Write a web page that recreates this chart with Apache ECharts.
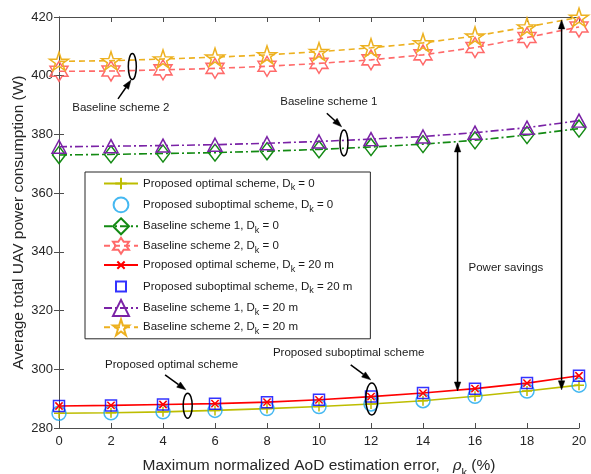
<!DOCTYPE html>
<html><head><meta charset="utf-8">
<script src="https://cdn.jsdelivr.net/npm/echarts@6/dist/echarts.min.js"></script>
<style>html,body{margin:0;padding:0;background:#fff}#c{width:591px;height:474px}</style>
</head><body><div id="c"></div>
<script>
// ---- data ----
const xValues = [0, 2, 4, 6, 8, 10, 12, 14, 16, 18, 20];
const optimalD0     = [285.0, 285.2, 285.5, 286.0, 286.6, 287.3, 288.2, 289.3, 290.8, 292.6, 294.6];
const suboptimalD0  = [285.0, 285.2, 285.5, 286.0, 286.6, 287.3, 288.2, 289.3, 290.8, 292.6, 294.6];
const baseline1D0   = [373.0, 373.2, 373.5, 373.8, 374.3, 374.9, 375.7, 376.7, 378.0, 379.8, 382.0];
const baseline2D0   = [401.5, 401.6, 402.0, 402.5, 403.2, 404.2, 405.4, 407.1, 409.6, 413.0, 416.6];
const optimalD20    = [287.5, 287.7, 288.0, 288.3, 288.8, 289.6, 290.7, 291.9, 293.4, 295.3, 297.8];
const suboptimalD20 = [287.5, 287.7, 288.0, 288.3, 288.8, 289.6, 290.7, 291.9, 293.4, 295.3, 297.8];
const baseline1D20  = [375.8, 376.0, 376.2, 376.5, 377.0, 377.6, 378.4, 379.3, 380.6, 382.3, 384.7];
const baseline2D20  = [404.9, 405.1, 405.7, 406.3, 407.1, 408.2, 409.5, 411.2, 413.5, 416.6, 419.9];
const seriesNames = [
  'Proposed optimal scheme, D_k = 0',
  'Proposed suboptimal scheme, D_k = 0',
  'Baseline scheme 1, D_k = 0',
  'Baseline scheme 2, D_k = 0',
  'Proposed optimal scheme, D_k = 20 m',
  'Proposed suboptimal scheme, D_k = 20 m',
  'Baseline scheme 1, D_k = 20 m',
  'Baseline scheme 2, D_k = 20 m'
];
const xTicks = [0, 20, 2];
const yTicks = [280, 420, 20];
// annotations in data coordinates
const annoTexts = [
  ['Baseline scheme 2', 2.38, 389.0],
  ['Baseline scheme 1', 10.38, 391.2],
  ['Proposed optimal scheme', 4.33, 301.5],
  ['Proposed suboptimal scheme', 11.14, 305.5],
  ['Power savings', 17.19, 334.5]
];
const annoEllipses = [[2.82, 403.1], [10.96, 377.1], [4.95, 287.6], [12.03, 289.9]];
const annoArrows = [
  [2.27, 392.1, 2.77, 398.5],
  [10.30, 387.2, 10.87, 382.6],
  [4.08, 298.1, 4.88, 293.0],
  [11.22, 301.5, 11.99, 296.4]
];
const annoDoubleArrows = [
  [15.33, 377.1, 15.33, 292.6],
  [19.33, 419.0, 19.33, 293.0]
];

// ---- styles ----
function starPath(n, rIn) {
  let p = '';
  for (let i = 0; i < 2 * n; i++) {
    const a = (-90 + i * 180 / n) * Math.PI / 180;
    const r = i % 2 === 0 ? 10 : 10 * rIn;
    p += (i === 0 ? 'M' : 'L') + (10 + r * Math.cos(a)).toFixed(2) + ',' + (10 + r * Math.sin(a)).toFixed(2);
  }
  return 'path://' + p + 'Z';
}
// padded paths so the glyph is drawn smaller than its symbol box
const PLUS = 'path://M-2,-2M12,12M5,0L5,10M0,5L10,5';
const CROSS = 'path://M-6,-6M16,16M0,0L10,10M10,0L0,10';
const HEX = starPath(6, 0.577);
const PENT = starPath(5, 0.382);
const LEG_CIRCLE = 'path://M-3.5,-3.5M23.5,23.5M0,10A10,10,0,1,1,20,10A10,10,0,1,1,0,10Z';
const LEG_SQUARE = 'path://M-5,-5M15,15M0,0L10,0L10,10L0,10Z';
const FONT = '"Liberation Sans", Arial, Helvetica, sans-serif';

const dataSets = [optimalD0, suboptimalD0, baseline1D0, baseline2D0, optimalD20, suboptimalD20, baseline1D20, baseline2D20];
const styles = [
  {type: 'line', color: '#BDBD00', symbol: PLUS, size: 14, dash: 'solid'},
  {type: 'scatter', color: '#16A6EE', symbol: 'circle', size: 14, legendIcon: LEG_CIRCLE},
  {type: 'line', color: '#138A13', symbol: 'diamond', size: [13, 17], dash: [8, 3, 2, 3]},
  {type: 'line', color: '#FF6A6A', symbol: HEX, size: [18, 20], dash: [6, 4]},
  {type: 'line', color: '#FF0000', symbol: CROSS, size: 16, dash: 'solid'},
  {type: 'scatter', color: '#0000FF', symbol: 'rect', size: 11, legendIcon: LEG_SQUARE},
  {type: 'line', color: '#7A22A6', symbol: 'triangle', size: [14, 13], dash: [8, 3, 2, 3]},
  {type: 'line', color: '#EDB120', symbol: PENT, size: [19, 18], dash: [6, 4]}
];

const series = dataSets.map((d, i) => {
  const st = styles[i];
  const s = {
    name: seriesNames[i],
    type: st.type,
    data: xValues.map((x, j) => [x, d[j]]),
    symbol: st.symbol,
    symbolSize: st.size,
    itemStyle: {color: 'rgba(0,0,0,0)', borderColor: st.color, borderWidth: 1.5},
    emphasis: {disabled: true},
    z: 2 + i
  };
  if (st.type === 'line') {
    s.lineStyle = {color: st.color, width: 1.6, type: st.dash};
    s.showAllSymbol = true;
  }
  return s;
});
const legendData = seriesNames.map((n, i) => styles[i].legendIcon ? {name: n, icon: styles[i].legendIcon} : {name: n});

const axisCommon = {
  axisLine: {show: true, lineStyle: {color: '#4d4d4d', width: 1}},
  axisTick: {show: true, inside: true, length: 5, lineStyle: {color: '#4d4d4d'}},
  splitLine: {show: false}
};

const chart = echarts.init(document.getElementById('c'), null, {renderer: 'canvas'});
chart.setOption({
  animation: false,
  backgroundColor: '#fff',
  grid: {left: 59, right: 12, top: 17, bottom: 46, containLabel: false, outerBoundsMode: 'none'},
  legend: {
    orient: 'vertical', left: 85, top: 172,
    backgroundColor: '#fff', borderColor: '#262626', borderWidth: 1,
    padding: [2.5, 18, 2.5, 18],
    itemWidth: 34, itemHeight: 20, itemGap: 1.4,
    textStyle: {fontFamily: FONT, fontSize: 11.5, color: '#1a1a1a', lineHeight: 18,
      rich: {sub: {fontFamily: FONT, fontSize: 9, color: '#1a1a1a', verticalAlign: 'bottom', lineHeight: 18}}},
    formatter: n => n.replace('D_k', 'D{sub|k}'),
    data: legendData
  },
  xAxis: [
    Object.assign({type: 'value', min: xTicks[0], max: xTicks[1], interval: xTicks[2], position: 'bottom',
      axisLabel: {fontFamily: FONT, fontSize: 13, color: '#262626', margin: 7},
      name: 'Maximum normalized AoD estimation error,   {rho|ρ}{sub|k} (%)', nameLocation: 'middle', nameGap: 26,
      nameTextStyle: {fontFamily: FONT, fontSize: 15.5, color: '#262626',
        rich: {rho: {fontFamily: 'DejaVu Serif', fontStyle: 'italic', fontSize: 15, color: '#262626'},
               sub: {fontFamily: FONT, fontSize: 11, color: '#262626', verticalAlign: 'bottom', lineHeight: 24}}}}, axisCommon),
    Object.assign({type: 'value', min: xTicks[0], max: xTicks[1], interval: xTicks[2], position: 'top',
      axisLabel: {show: false}}, axisCommon)
  ],
  yAxis: [
    Object.assign({type: 'value', min: yTicks[0], max: yTicks[1], interval: yTicks[2], position: 'left',
      axisLabel: {fontFamily: FONT, fontSize: 13, color: '#262626', margin: 6},
      name: 'Average total UAV power consumption (W)', nameLocation: 'middle', nameGap: 32, nameMoveOverlap: false,
      nameTextStyle: {fontFamily: FONT, fontSize: 15.5, color: '#262626'}}, axisCommon),
    Object.assign({type: 'value', min: yTicks[0], max: yTicks[1], interval: yTicks[2], position: 'right',
      axisLabel: {show: false}}, axisCommon)
  ],
  series: series
});

// ---- annotations (positioned through the chart's own coordinate conversion) ----
function px(x, y) { return chart.convertToPixel({gridIndex: 0}, [x, y]); }
const graphics = [];
const black = '#000';
annoTexts.forEach(t => {
  const p = px(t[1], t[2]);
  graphics.push({type: 'text', z: 100, style: {text: t[0], x: p[0], y: p[1], align: 'center', verticalAlign: 'middle',
    fontFamily: FONT, fontSize: 11.5, fill: '#1a1a1a'}});
});
const ellipseSizes = [[4, 13], [4, 13], [4.5, 12.5], [6, 16]];
annoEllipses.forEach((e, i) => {
  const p = px(e[0], e[1]);
  graphics.push({type: 'ellipse', z: 100, shape: {cx: p[0], cy: p[1], rx: ellipseSizes[i][0], ry: ellipseSizes[i][1]},
    style: {fill: 'none', stroke: black, lineWidth: 1.5}});
});
function arrowHead(tail, tip) {
  const dx = tip[0] - tail[0], dy = tip[1] - tail[1];
  const L = Math.sqrt(dx * dx + dy * dy), ux = dx / L, uy = dy / L;
  const hl = 9, hw = 3.2;
  const bx = tip[0] - ux * hl, by = tip[1] - uy * hl;
  graphics.push({type: 'polygon', z: 101, shape: {points: [tip, [bx - uy * hw, by + ux * hw], [bx + uy * hw, by - ux * hw]]},
    style: {fill: black, stroke: black, lineWidth: 0.5}});
  return [bx, by];
}
annoArrows.forEach(a => {
  const t = px(a[0], a[1]), h = px(a[2], a[3]);
  const b = arrowHead(t, h);
  graphics.push({type: 'line', z: 100, shape: {x1: t[0], y1: t[1], x2: b[0], y2: b[1]}, style: {stroke: black, lineWidth: 1.5}});
});
annoDoubleArrows.forEach(a => {
  const p1 = px(a[0], a[1]), p2 = px(a[2], a[3]);
  const b1 = arrowHead(p2, p1), b2 = arrowHead(p1, p2);
  graphics.push({type: 'line', z: 100, shape: {x1: b1[0], y1: b1[1], x2: b2[0], y2: b2[1]}, style: {stroke: black, lineWidth: 1.5}});
});
chart.setOption({graphic: graphics});
</script>
</body></html>
